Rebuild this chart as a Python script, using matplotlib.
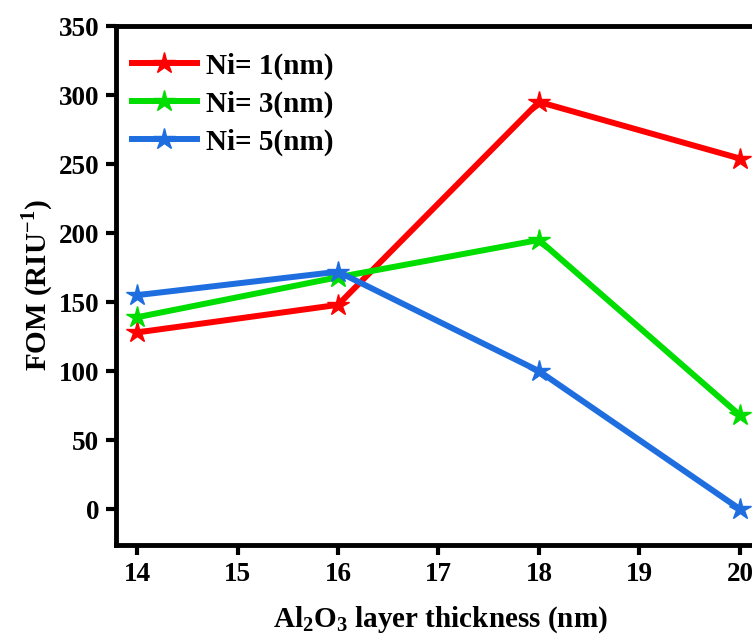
import matplotlib.pyplot as plt

thickness = [14, 16, 18, 20]
fom_ni1 = [128, 148, 295, 254]
fom_ni3 = [139, 168, 195, 68]
fom_ni5 = [155, 172, 100, 0]
labels = ["Ni= 1(nm)", "Ni= 3(nm)", "Ni= 5(nm)"]
colors = ["#ff0000", "#00dd00", "#1f6ee0"]

plt.rcParams['font.family'] = ['Liberation Serif', 'DejaVu Serif']
plt.rcParams['font.weight'] = 'bold'
plt.rcParams['mathtext.fontset'] = 'custom'
plt.rcParams['mathtext.rm'] = 'Liberation Serif:bold'
plt.rcParams['mathtext.bf'] = 'Liberation Serif:bold'

fig = plt.figure(figsize=(7.52, 6.37), dpi=100)
# axes run past the right edge, as in the cropped reference
ax = fig.add_axes([116 / 752, 1 - 545 / 637, 648 / 752, 519 / 637])

for ys, lab, c in zip([fom_ni1, fom_ni3, fom_ni5], labels, colors):
    ax.plot(thickness, ys, color=c, lw=4.3, marker='*', markersize=16, label=lab)

ax.set_xlim(13.79, 20.24)
ax.set_ylim(-26, 350)
ax.set_xticks(range(14, 21))
ax.set_yticks(range(0, 351, 50))

for side in ['left', 'bottom', 'top', 'right']:
    ax.spines[side].set_linewidth(3.5)
ax.tick_params(direction='out', length=7, width=3, labelsize=19.5, pad=5)

ax.set_xlabel(r'Al$_2$O$_3$ layer thickness (nm)', fontsize=21, fontweight='bold', labelpad=13)
ax.set_ylabel(r'FOM (RIU$^{\mathbf{-1}}$)', fontsize=21, fontweight='bold', labelpad=3)

ax.legend(loc='upper left', frameon=False, fontsize=21, handlelength=2.25,
          handletextpad=0.3, borderaxespad=0.0, labelspacing=0.36,
          borderpad=0.2, bbox_to_anchor=(0.015, 0.96))

fig.savefig('out.png', dpi=100)
